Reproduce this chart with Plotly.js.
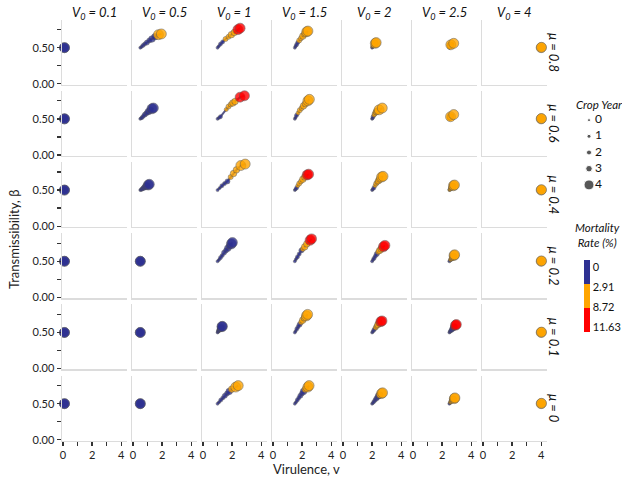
<!DOCTYPE html>
<html>
<head>
<meta charset="utf-8">
<script src="https://cdn.plot.ly/plotly-3.0.1.min.js"></script>
<style>html,body{margin:0;padding:0;background:#fff;}#chart{width:622px;height:481px;}</style>
</head>
<body>
<div id="chart"></div>
<script>
// ---------- DATA ----------
const V0Labels = ['0.1', '0.5', '1', '1.5', '2', '2.5', '4'];
const muLabels = ['0.8', '0.6', '0.4', '0.2', '0.1', '0'];
const cropYear = [0, 0, 1, 1, 2, 2, 3, 3, 4, 4];
const cropYearLegend = [0, 1, 2, 3, 4];
const mortalityBreakLabels = ['0', '2.91', '8.72', '11.63'];
const xTickVals = [0, 2, 4];
const xTickText = ['0', '2', '4'];
const yTickVals = [0, 0.5];
const yTickText = ['0.00', '0.50'];

// mu = 0.8
const virulence_mu08 = [
  [0.1,0.1,0.1,0.1,0.1,0.1,0.1,0.1,0.1,0.1],
  [0.5,0.58,0.68,0.8,0.95,1.12,1.3,1.5,1.75,1.95],
  [1.0,1.08,1.2,1.35,1.55,1.75,1.95,2.15,2.4,2.55],
  [1.5,1.55,1.62,1.7,1.8,1.92,2.05,2.18,2.32,2.4],
  [2.0,2.02,2.05,2.08,2.12,2.15,2.18,2.2,2.22,2.28],
  [2.5,2.51,2.52,2.53,2.54,2.55,2.56,2.57,2.6,2.8],
  [4,4,4,4,4,4,4,4,4,4.02]
];
const transmiss_mu08 = [
  [0.5,0.5,0.5,0.5,0.5,0.5,0.5,0.5,0.5,0.5],
  [0.5,0.51,0.53,0.55,0.57,0.6,0.62,0.65,0.68,0.69],
  [0.5,0.52,0.55,0.58,0.62,0.65,0.68,0.71,0.75,0.77],
  [0.5,0.52,0.54,0.57,0.6,0.63,0.66,0.69,0.72,0.73],
  [0.5,0.51,0.52,0.53,0.54,0.55,0.56,0.56,0.56,0.57],
  [0.5,0.505,0.51,0.515,0.52,0.525,0.53,0.535,0.54,0.56],
  [0.5,0.5,0.5,0.5,0.5,0.5,0.5,0.5,0.5,0.505]
];
const mortality_mu08 = [
  [0,0.3,0.5,0.6,0.7,0.8,0.9,1,1,1],
  [0,0.6,1.1,1.5,1.9,2.3,2.6,2.85,3.3,3.6],
  [0,1.2,2.2,2.8,3.5,4.5,5.8,7.2,9.2,10.5],
  [0,1,2,2.7,3.3,4,4.8,5.5,6.5,7],
  [1,2,3.2,3.8,4.2,4.6,5,5.3,5.6,5.8],
  [3.5,4,4.3,4.6,4.8,5,5.2,5.4,5.6,5.8],
  [3.5,3.8,4,4.2,4.4,4.6,4.8,5,5.1,5.2]
];

// mu = 0.6
const virulence_mu06 = [
  [0.1,0.1,0.1,0.1,0.1,0.1,0.1,0.1,0.1,0.1],
  [0.5,0.56,0.63,0.72,0.82,0.93,1.05,1.17,1.3,1.4],
  [1.0,1.1,1.2,1.6,1.75,1.9,2.05,2.2,2.55,2.85],
  [1.5,1.55,1.62,1.72,1.84,1.97,2.1,2.23,2.4,2.5],
  [2.0,2.03,2.07,2.12,2.18,2.24,2.3,2.38,2.48,2.7],
  [2.5,2.51,2.52,2.53,2.54,2.55,2.56,2.57,2.58,2.8],
  [4,4,4,4,4,4,4,4,4,4.02]
];
const transmiss_mu06 = [
  [0.5,0.5,0.5,0.5,0.5,0.5,0.5,0.5,0.5,0.5],
  [0.5,0.51,0.52,0.54,0.56,0.58,0.6,0.62,0.64,0.65],
  [0.5,0.515,0.53,0.63,0.67,0.7,0.72,0.74,0.8,0.82],
  [0.5,0.52,0.55,0.58,0.62,0.65,0.68,0.71,0.75,0.77],
  [0.5,0.51,0.53,0.55,0.57,0.59,0.6,0.61,0.625,0.65],
  [0.5,0.505,0.51,0.515,0.52,0.52,0.525,0.53,0.53,0.56],
  [0.5,0.5,0.5,0.5,0.5,0.5,0.5,0.5,0.5,0.505]
];
const mortality_mu06 = [
  [0,0.3,0.5,0.6,0.7,0.8,0.9,1,1,1],
  [0,0.4,0.7,1,1.2,1.4,1.6,1.8,2,2.2],
  [0,1,1.8,3.5,4.5,5.5,6.8,8,9.5,11],
  [0,1.2,2.2,3,3.6,4.2,4.8,5.5,6.3,7],
  [0.5,1.5,2.5,3.2,3.8,4.3,4.8,5.2,5.6,6],
  [3.5,4,4.3,4.6,4.8,5,5.2,5.4,5.6,5.8],
  [3.5,3.8,4,4.2,4.4,4.6,4.8,5,5.1,5.2]
];

// mu = 0.4
const virulence_mu04 = [
  [0.1,0.1,0.1,0.1,0.1,0.1,0.1,0.1,0.1,0.1],
  [0.5,0.55,0.6,0.66,0.73,0.8,0.88,0.96,1.05,1.12],
  [1.0,1.15,1.3,1.48,1.68,1.9,2.1,2.3,2.6,2.9],
  [1.5,1.55,1.62,1.7,1.8,1.92,2.05,2.18,2.35,2.45],
  [2.0,2.05,2.12,2.2,2.28,2.36,2.44,2.52,2.65,2.75],
  [2.5,2.52,2.55,2.58,2.62,2.66,2.7,2.74,2.78,2.85],
  [4,4,4,4,4,4,4,4,4,4.02]
];
const transmiss_mu04 = [
  [0.5,0.5,0.5,0.5,0.5,0.5,0.5,0.5,0.5,0.5],
  [0.5,0.505,0.51,0.52,0.53,0.54,0.55,0.56,0.57,0.58],
  [0.5,0.53,0.56,0.59,0.62,0.68,0.73,0.78,0.84,0.86],
  [0.5,0.51,0.53,0.56,0.59,0.62,0.65,0.68,0.71,0.72],
  [0.5,0.51,0.53,0.56,0.59,0.61,0.63,0.65,0.68,0.69],
  [0.5,0.505,0.51,0.52,0.53,0.54,0.55,0.55,0.56,0.57],
  [0.5,0.5,0.5,0.5,0.5,0.5,0.5,0.5,0.5,0.505]
];
const mortality_mu04 = [
  [0,0.3,0.5,0.6,0.7,0.8,0.9,1,1,1],
  [0,0.3,0.6,0.9,1.1,1.3,1.5,1.7,1.9,2],
  [0,0.8,1.5,2.2,2.8,3.4,4.2,5,6,6.8],
  [0,1.2,2.4,3.2,4.2,5.5,6.8,8,9.5,10.5],
  [0.5,1.5,2.5,3.1,3.6,4.1,4.6,5.1,5.6,6],
  [3,3.4,3.8,4.1,4.4,4.7,5,5.3,5.6,5.9],
  [3.5,3.8,4,4.2,4.4,4.6,4.8,5,5.1,5.2]
];

// mu = 0.2
const virulence_mu02 = [
  [0.1,0.1,0.1,0.1,0.1,0.1,0.1,0.1,0.1,0.1],
  [0.5,0.5,0.5,0.5,0.5,0.5,0.5,0.5,0.5,0.5],
  [1.0,1.1,1.2,1.32,1.45,1.58,1.7,1.82,1.95,2.02],
  [1.5,1.58,1.68,1.8,1.95,2.05,2.18,2.32,2.55,2.65],
  [2.0,2.06,2.13,2.22,2.32,2.42,2.52,2.62,2.78,2.88],
  [2.5,2.54,2.58,2.62,2.66,2.7,2.74,2.78,2.82,2.86],
  [4,4,4,4,4,4,4,4,4,4.02]
];
const transmiss_mu02 = [
  [0.5,0.5,0.5,0.5,0.5,0.5,0.5,0.5,0.5,0.5],
  [0.5,0.5,0.5,0.5,0.5,0.5,0.5,0.5,0.5,0.5],
  [0.5,0.52,0.55,0.58,0.62,0.65,0.68,0.71,0.74,0.76],
  [0.5,0.53,0.56,0.6,0.65,0.67,0.7,0.74,0.79,0.81],
  [0.5,0.52,0.54,0.57,0.6,0.63,0.65,0.67,0.7,0.72],
  [0.5,0.51,0.52,0.53,0.54,0.55,0.56,0.57,0.58,0.59],
  [0.5,0.5,0.5,0.5,0.5,0.5,0.5,0.5,0.5,0.505]
];
const mortality_mu02 = [
  [0,0.3,0.5,0.6,0.7,0.8,0.9,1,1,1],
  [0,0.2,0.3,0.4,0.5,0.6,0.7,0.8,0.9,1],
  [0,0.3,0.6,0.9,1.2,1.5,1.8,2,2.3,2.5],
  [0,0.8,1.5,2.2,2.8,3.5,5,7,9.5,11],
  [0,0.8,1.6,2.3,2.8,3.5,5,7,9.2,10.5],
  [1,2,3.2,3.6,4,4.3,4.6,4.9,5.2,5.5],
  [3.5,3.8,4,4.2,4.4,4.6,4.8,5,5.1,5.2]
];

// mu = 0.1
const virulence_mu01 = [
  [0.1,0.1,0.1,0.1,0.1,0.1,0.1,0.1,0.1,0.1],
  [0.5,0.5,0.5,0.5,0.5,0.5,0.5,0.5,0.5,0.5],
  [1.0,1.03,1.06,1.1,1.14,1.18,1.22,1.26,1.3,1.33],
  [1.5,1.56,1.64,1.73,1.83,1.93,2.04,2.15,2.3,2.38],
  [2.0,2.05,2.11,2.18,2.25,2.32,2.4,2.48,2.6,2.68],
  [2.5,2.54,2.58,2.63,2.68,2.73,2.78,2.84,2.92,2.98],
  [4,4,4,4,4,4,4,4,4,4.02]
];
const transmiss_mu01 = [
  [0.5,0.5,0.5,0.5,0.5,0.5,0.5,0.5,0.5,0.5],
  [0.5,0.5,0.5,0.5,0.5,0.5,0.5,0.5,0.5,0.5],
  [0.5,0.51,0.52,0.53,0.54,0.55,0.56,0.57,0.58,0.585],
  [0.5,0.52,0.55,0.58,0.61,0.64,0.67,0.7,0.73,0.75],
  [0.5,0.51,0.53,0.55,0.57,0.59,0.61,0.63,0.65,0.66],
  [0.5,0.51,0.52,0.53,0.54,0.56,0.57,0.58,0.6,0.61],
  [0.5,0.5,0.5,0.5,0.5,0.5,0.5,0.5,0.5,0.505]
];
const mortality_mu01 = [
  [0,0.3,0.5,0.6,0.7,0.8,0.9,1,1,1],
  [0,0.2,0.3,0.4,0.5,0.6,0.7,0.8,0.9,1],
  [0,0.2,0.4,0.6,0.8,1,1.2,1.4,1.6,1.8],
  [0,0.6,1.2,1.8,2.4,3,3.8,4.6,5.5,6.2],
  [0,0.8,1.6,2.4,3.2,4.5,6,8,9.5,10.5],
  [0,0.5,1,1.5,2,2.4,2.8,9,9.8,10.8],
  [3.5,3.8,4,4.2,4.4,4.6,4.8,5,5.1,5.2]
];

// mu = 0
const virulence_mu0 = [
  [0.1,0.1,0.1,0.1,0.1,0.1,0.1,0.1,0.1,0.1],
  [0.5,0.5,0.5,0.5,0.5,0.5,0.5,0.5,0.5,0.5],
  [1.0,1.1,1.22,1.36,1.5,1.65,1.8,1.97,2.25,2.42],
  [1.5,1.58,1.67,1.77,1.88,1.99,2.1,2.22,2.4,2.48],
  [2.0,2.06,2.13,2.21,2.29,2.37,2.45,2.53,2.65,2.72],
  [2.5,2.54,2.58,2.62,2.66,2.7,2.74,2.78,2.84,2.88],
  [4,4,4,4,4,4,4,4,4,4.02]
];
const transmiss_mu0 = [
  [0.5,0.5,0.5,0.5,0.5,0.5,0.5,0.5,0.5,0.5],
  [0.5,0.5,0.5,0.5,0.5,0.5,0.5,0.5,0.5,0.5],
  [0.5,0.52,0.55,0.58,0.61,0.64,0.67,0.7,0.73,0.75],
  [0.5,0.52,0.55,0.58,0.61,0.64,0.67,0.7,0.73,0.75],
  [0.5,0.51,0.53,0.55,0.57,0.59,0.61,0.62,0.64,0.65],
  [0.5,0.51,0.52,0.53,0.54,0.55,0.56,0.56,0.57,0.58],
  [0.5,0.5,0.5,0.5,0.5,0.5,0.5,0.5,0.5,0.505]
];
const mortality_mu0 = [
  [0,0.3,0.5,0.6,0.7,0.8,0.9,1,1,1],
  [0,0.2,0.3,0.4,0.5,0.6,0.7,0.8,0.9,1],
  [0,0.5,1,1.5,2,2.4,2.8,3.3,4,4.5],
  [0,0.4,0.8,1.3,1.8,2.2,2.6,3.0,3.6,4],
  [0,0.5,1,1.5,2,2.4,2.8,3.2,3.8,4.2],
  [1.5,2.5,3.1,3.3,3.5,3.7,3.9,4.1,4.3,4.5],
  [3.5,3.8,4,4.2,4.4,4.6,4.8,5,5.1,5.2]
];

// ---------- BUILD ----------
const rowsX = [virulence_mu08, virulence_mu06, virulence_mu04, virulence_mu02, virulence_mu01, virulence_mu0];
const rowsY = [transmiss_mu08, transmiss_mu06, transmiss_mu04, transmiss_mu02, transmiss_mu01, transmiss_mu0];
const rowsM = [mortality_mu08, mortality_mu06, mortality_mu04, mortality_mu02, mortality_mu01, mortality_mu0];

const W = 622, H = 481;
const FONT = 'Lato, "DejaVu Sans", sans-serif';
const BLUE = '#2E3192', ORANGE = '#FFA500', RED = '#FF0000';
const sizeByYear = [3, 4, 5, 6.5, 10];
const colorFor = m => (m < 2.91 ? BLUE : (m < 8.72 ? ORANGE : RED));

const panelW = 65, panelH = 65;
const colLeft = c => 62 + 70 * c;
const rowTop = r => 19.5 + 71.2 * r;

const traces = [];
const layout = {
  width: W, height: H,
  margin: {l: 0, r: 0, t: 0, b: 0},
  paper_bgcolor: '#fff', plot_bgcolor: 'rgba(0,0,0,0)',
  showlegend: false,
  font: {family: FONT, color: '#222', size: 11},
  annotations: []
};

for (let r = 0; r < 6; r++) {
  for (let c = 0; c < 7; c++) {
    const k = r * 7 + c + 1;
    const xs = k === 1 ? '' : String(k);
    const xName = 'x' + xs, yName = 'y' + xs;
    const xOuter = r === 5, yOuter = c === 0;
    layout['xaxis' + xs] = {
      domain: [colLeft(c) / W, (colLeft(c) + panelW) / W],
      range: [-0.07, 4.4], anchor: yName,
      showline: true, linecolor: '#dcdcdc', linewidth: 1.5,
      showgrid: false, zeroline: false,
      tickmode: 'array', tickvals: xTickVals, ticktext: xTickText,
      ticks: xOuter ? 'outside' : '', ticklen: 4, tickwidth: 1.3, tickcolor: '#333',
      minor: {tick0: 0, dtick: 1, ticks: xOuter ? 'outside' : '', ticklen: 4, tickwidth: 1.3, tickcolor: '#333', showgrid: false},
      showticklabels: xOuter, tickfont: {size: 11, color: '#222'},
      fixedrange: true
    };
    layout['yaxis' + xs] = {
      domain: [1 - (rowTop(r) + panelH) / H, 1 - rowTop(r) / H],
      range: [-0.01, 0.89], anchor: xName,
      showline: true, linecolor: '#dcdcdc', linewidth: 1.5,
      showgrid: false, zeroline: false,
      tickmode: 'array', tickvals: yTickVals, ticktext: yTickText,
      ticks: yOuter ? 'outside' : '', ticklen: 4, tickwidth: 1.3, tickcolor: '#333',
      minor: {tick0: 0, dtick: 0.25, ticks: yOuter ? 'outside' : '', ticklen: 4, tickwidth: 1.3, tickcolor: '#333', showgrid: false},
      showticklabels: yOuter, tickfont: {size: 11, color: '#222'},
      fixedrange: true
    };
    const px = rowsX[r][c], py = rowsY[r][c], pm = rowsM[r][c];
    traces.push({
      type: 'scatter', mode: 'lines', x: px, y: py, xaxis: xName, yaxis: yName,
      line: {color: 'rgba(60,60,115,0.85)', width: 2}, hoverinfo: 'skip', cliponaxis: false
    });
    traces.push({
      type: 'scatter', mode: 'markers', x: px, y: py, xaxis: xName, yaxis: yName,
      cliponaxis: false,
      marker: {
        size: cropYear.map(yr => sizeByYear[yr]),
        color: pm.map(colorFor),
        opacity: 0.8,
        line: {color: 'rgba(85,85,85,0.85)', width: 0.7}
      }
    });
  }
}

// strip labels
for (let c = 0; c < 7; c++) {
  layout.annotations.push({
    xref: 'paper', yref: 'paper', x: (colLeft(c) + panelW / 2) / W, y: 1 - 13 / H,
    xanchor: 'center', yanchor: 'middle', showarrow: false,
    text: '<i>V<sub>0</sub> = ' + V0Labels[c] + '</i>', font: {size: 13, color: '#111'}
  });
}
for (let r = 0; r < 6; r++) {
  layout.annotations.push({
    xref: 'paper', yref: 'paper', x: 554 / W, y: 1 - (rowTop(r) + panelH / 2) / H,
    xanchor: 'center', yanchor: 'middle', showarrow: false, textangle: 90,
    text: '<i>μ = ' + muLabels[r] + '</i>', font: {size: 13, color: '#111'}
  });
}
// axis titles
layout.annotations.push({
  xref: 'paper', yref: 'paper', x: 14 / W, y: 1 - 240 / H, xanchor: 'center', yanchor: 'middle',
  showarrow: false, textangle: -90, text: 'Transmissibility, β', font: {size: 13, color: '#222'}
});
layout.annotations.push({
  xref: 'paper', yref: 'paper', x: 306 / W, y: 1 - 469 / H, xanchor: 'center', yanchor: 'middle',
  showarrow: false, text: 'Virulence, v', font: {size: 13, color: '#222'}
});
// legend titles
layout.annotations.push({
  xref: 'paper', yref: 'paper', x: 574 / W, y: 1 - 104 / H, xanchor: 'left', yanchor: 'middle',
  showarrow: false, text: '<i>Crop Year</i>', font: {size: 11.5, color: '#111'}
});
layout.annotations.push({
  xref: 'paper', yref: 'paper', x: 573 / W, y: 1 - 235 / H, xanchor: 'left', yanchor: 'middle',
  showarrow: false, text: '<i>Mortality<br>Rate (%)</i>', font: {size: 11.5, color: '#111'}
});

// legend axis (crop year sizes)
layout.xaxis43 = {domain: [575 / W, 620 / W], range: [0, 45], visible: false, anchor: 'y43', fixedrange: true};
layout.yaxis43 = {domain: [1 - 193 / H, 1 - 112 / H], range: [4.5, -0.5], visible: false, anchor: 'x43', fixedrange: true};
traces.push({
  type: 'scatter', mode: 'markers', xaxis: 'x43', yaxis: 'y43', cliponaxis: false,
  x: cropYearLegend.map(() => 14), y: cropYearLegend,
  marker: {size: cropYearLegend.map(yr => sizeByYear[yr]), color: '#111'}
});
traces.push({
  type: 'scatter', mode: 'text', xaxis: 'x43', yaxis: 'y43', cliponaxis: false,
  x: cropYearLegend.map(() => 20), y: cropYearLegend,
  text: cropYearLegend.map(String), textposition: 'middle right',
  textfont: {size: 12, color: '#111'}
});
// colorbar for mortality classes
traces.push({
  type: 'scatter', mode: 'markers', xaxis: 'x43', yaxis: 'y43', cliponaxis: true,
  x: [-100, -100], y: [0, 0],
  marker: {
    color: [0, 3], cmin: 0, cmax: 3, opacity: 0,
    colorscale: [[0, RED], [1 / 3, RED], [1 / 3, ORANGE], [2 / 3, ORANGE], [2 / 3, BLUE], [1, BLUE]],
    showscale: true,
    colorbar: {
      x: 584 / W, xanchor: 'left', xpad: 0, y: 1 - 260 / H, yanchor: 'top', ypad: 0,
      len: 72, lenmode: 'pixels', thickness: 6, thicknessmode: 'pixels',
      outlinewidth: 0, borderwidth: 0, ticks: '', ticklen: 0,
      tickvals: [2.71, 1.875, 1.04, 0.21], ticktext: mortalityBreakLabels,
      tickfont: {size: 11, color: '#111'}, title: {text: ''}
    }
  }
});

Plotly.newPlot('chart', traces, layout, {staticPlot: true, displayModeBar: false});
</script>
</body>
</html>
